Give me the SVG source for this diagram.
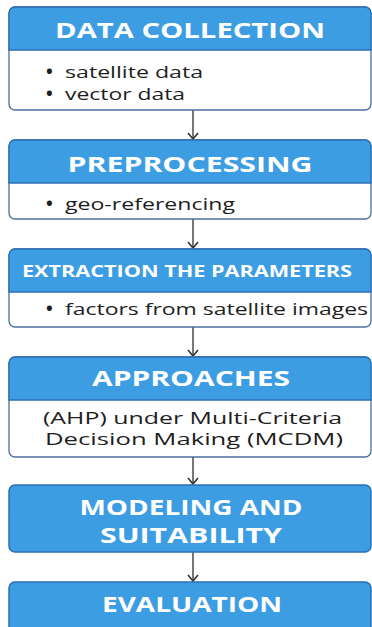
<svg xmlns="http://www.w3.org/2000/svg" width="372" height="627" viewBox="0 0 372 627">
<defs>
<style>
.body{fill:#ffffff;stroke:#4a6f9c;stroke-width:1.3}
.hdr{fill:#3d9de3;stroke:#2d6db5;stroke-width:1.3}
.full{fill:#3d9de3;stroke:#2d6db5;stroke-width:1.5}
.ht{font-family:"Open Sans","Liberation Sans",sans-serif;font-weight:700;fill:#ffffff;text-anchor:middle}
.bt{font-family:"Open Sans","Liberation Sans",sans-serif;font-size:17px;fill:#1e1e1e}
.bl{font-family:"Open Sans","Liberation Sans",sans-serif;font-size:18px;font-weight:700;fill:#1e1e1e}
.con{stroke:#555555;stroke-width:1.6;fill:none}
</style>
<marker id="ah" viewBox="0 0 10 12" refX="8" refY="6" markerWidth="10" markerHeight="12" markerUnits="userSpaceOnUse" orient="auto">
<path d="M2,1 L8,6 L2,11" fill="none" stroke="#333333" stroke-width="1.6"/>
</marker>
</defs>
<rect width="372" height="627" fill="#ffffff"/>

<g id="connectors">
<line class="con" x1="193" y1="110" x2="193" y2="139" marker-end="url(#ah)"/>
<line class="con" x1="193" y1="219" x2="193" y2="248" marker-end="url(#ah)"/>
<line class="con" x1="193" y1="327" x2="193" y2="356" marker-end="url(#ah)"/>
<line class="con" x1="193" y1="457" x2="193" y2="484" marker-end="url(#ah)"/>
<line class="con" x1="193" y1="552" x2="193" y2="581" marker-end="url(#ah)"/>
</g>

<g id="data-collection">
<rect class="body" x="9" y="7" width="362" height="103" rx="6"/>
<path class="hdr" d="M9,50 V13 A6,6 0 0 1 15,7 H365 A6,6 0 0 1 371,13 V50 Z"/>
<text class="ht" x="190" y="38" font-size="21" textLength="270" lengthAdjust="spacingAndGlyphs">DATA COLLECTION</text>
<text class="bl" x="46" y="78">•</text>
<text class="bt" x="65" y="78" textLength="138" lengthAdjust="spacingAndGlyphs">satellite data</text>
<text class="bl" x="46" y="100">•</text>
<text class="bt" x="65" y="100" textLength="120" lengthAdjust="spacingAndGlyphs">vector data</text>
</g>

<g id="preprocessing">
<rect class="body" x="9" y="140" width="362" height="79" rx="6"/>
<path class="hdr" d="M9,183 V146 A6,6 0 0 1 15,140 H365 A6,6 0 0 1 371,146 V183 Z"/>
<text class="ht" x="190" y="172" font-size="22" textLength="245" lengthAdjust="spacingAndGlyphs">PREPROCESSING</text>
<text class="bl" x="46" y="210">•</text>
<text class="bt" x="65" y="210" textLength="170" lengthAdjust="spacingAndGlyphs">geo-referencing</text>
</g>

<g id="extraction">
<rect class="body" x="9" y="249" width="362" height="78" rx="6"/>
<path class="hdr" d="M9,292 V255 A6,6 0 0 1 15,249 H365 A6,6 0 0 1 371,255 V292 Z"/>
<text class="ht" x="187" y="277" font-size="16" textLength="330" lengthAdjust="spacingAndGlyphs">EXTRACTION THE PARAMETERS</text>
<text class="bl" x="46" y="315">•</text>
<text class="bt" x="65" y="315" textLength="303" lengthAdjust="spacingAndGlyphs">factors from satellite images</text>
</g>

<g id="approaches">
<rect class="body" x="9" y="357" width="362" height="100" rx="6"/>
<path class="hdr" d="M9,400 V363 A6,6 0 0 1 15,357 H365 A6,6 0 0 1 371,363 V400 Z"/>
<text class="ht" x="191" y="386" font-size="22" textLength="198" lengthAdjust="spacingAndGlyphs">APPROACHES</text>
<text class="bt" x="43" y="424" textLength="299" lengthAdjust="spacingAndGlyphs">(AHP) under Multi-Criteria</text>
<text class="bt" x="45" y="445" textLength="298" lengthAdjust="spacingAndGlyphs">Decision Making (MCDM)</text>
</g>

<g id="modeling">
<rect class="full" x="9" y="485" width="362" height="67" rx="6"/>
<text class="ht" x="191" y="515" font-size="22" textLength="223" lengthAdjust="spacingAndGlyphs">MODELING AND</text>
<text class="ht" x="191" y="543" font-size="22" textLength="182" lengthAdjust="spacingAndGlyphs">SUITABILITY</text>
</g>

<g id="evaluation">
<rect class="full" x="9" y="582" width="362" height="60" rx="6"/>
<text class="ht" x="192" y="612" font-size="22" textLength="180" lengthAdjust="spacingAndGlyphs">EVALUATION</text>
</g>
</svg>
